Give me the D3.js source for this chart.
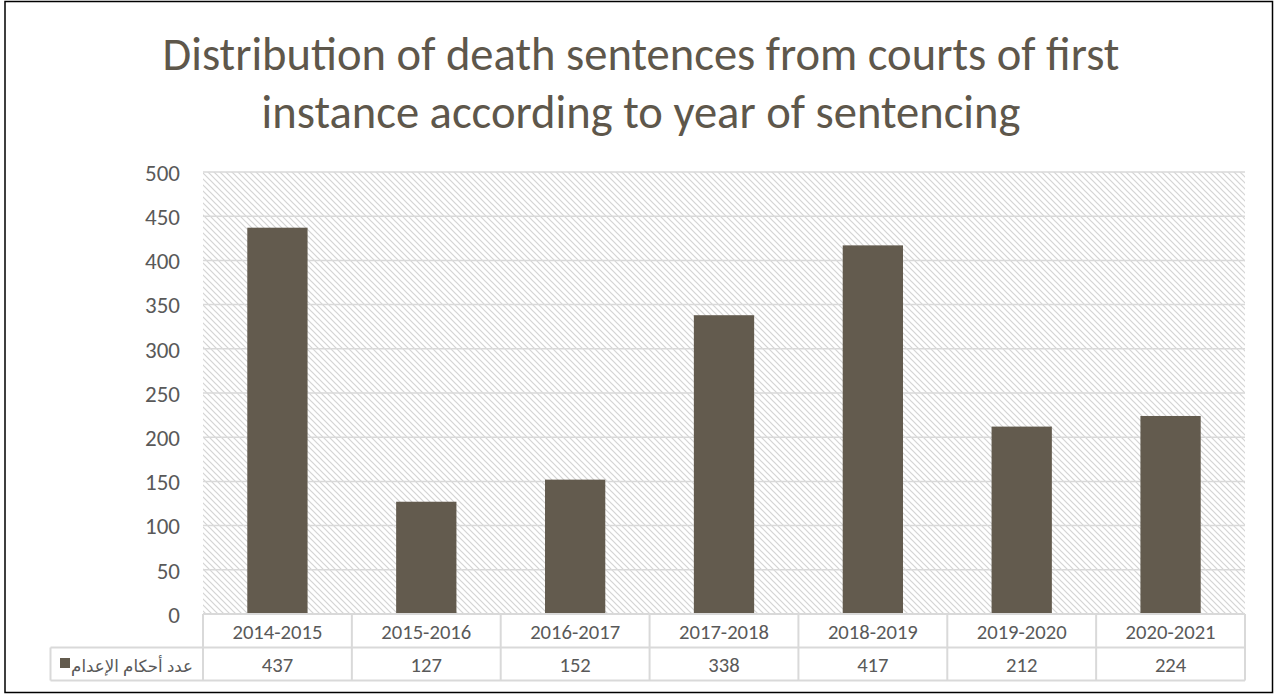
<!DOCTYPE html>
<html>
<head>
<meta charset="utf-8">
<script src="https://cdn.jsdelivr.net/npm/d3@7"></script>
<style>
  html, body { margin: 0; padding: 0; background: #fff; }
  svg { display: block; }
</style>
</head>
<body>
<svg id="chart" width="1275" height="698"></svg>
<script>
const categories = ["2014-2015", "2015-2016", "2016-2017", "2017-2018", "2018-2019", "2019-2020", "2020-2021"];
const values = [437, 127, 152, 338, 417, 212, 224];
const yTicks = [0, 50, 100, 150, 200, 250, 300, 350, 400, 450, 500];
const seriesName = "عدد أحكام الإعدام";
const titleLines = ["Distribution of death sentences from courts of first", "instance according to year of sentencing"];

const W = 1275, H = 698;
const margin = { left: 203, right: 1245, top: 172, bottom: 614 };
const barColor = "#635b4e";
const textColor = "#595959";
const gridColor = "#d9d9d9";
const font = "Calibri, Carlito, 'Open Sans', 'Liberation Sans', sans-serif";

const svg = d3.select("#chart");

// helper: scale font size of a selection so that a reference text reaches a target width
function fitFont(sel, refIndex, targetW, base) {
  sel.attr("font-size", base);
  const w = sel.nodes()[refIndex].getComputedTextLength();
  const fs = base * targetW / w;
  sel.attr("font-size", fs);
  return fs;
}

// pattern
const defs = svg.append("defs");
const pat = defs.append("pattern")
  .attr("id", "hatch").attr("patternUnits", "userSpaceOnUse")
  .attr("width", 6).attr("height", 6);
pat.append("rect").attr("width", 6).attr("height", 6).attr("fill", "#fff");
pat.append("path").attr("d", "M-1,-1 L7,7 M-7,-1 L1,7 M5,-1 L13,7")
  .attr("stroke", "#d4d4d4").attr("stroke-width", 1.2);

// outer border
svg.append("rect").attr("x", 5).attr("y", 1.5).attr("width", 1267.5).attr("height", 691)
  .attr("fill", "#fff").attr("stroke", "#000").attr("stroke-width", 1.5);

const x = d3.scaleBand().domain(categories).range([margin.left, margin.right]).paddingInner(0).paddingOuter(0);
const y = d3.scaleLinear().domain([0, 500]).range([margin.bottom, margin.top]);

// plot background
svg.append("rect").attr("x", margin.left).attr("y", margin.top)
  .attr("width", margin.right - margin.left).attr("height", margin.bottom - margin.top)
  .attr("fill", "url(#hatch)");

// gridlines
svg.append("g").selectAll("line").data(yTicks.filter(d => d > 0)).join("line")
  .attr("x1", margin.left).attr("x2", margin.right)
  .attr("y1", d => y(d)).attr("y2", d => y(d))
  .attr("stroke", gridColor).attr("stroke-width", 1.5);

// y axis labels
const yAxis = d3.axisLeft(y).tickValues(yTicks).tickSize(0).tickPadding(0);
const yg = svg.append("g").attr("transform", `translate(180,0)`).call(yAxis);
yg.select(".domain").remove();
const yTexts = yg.selectAll("text").attr("font-family", font)
  .attr("fill", textColor).attr("dy", "0.36em");
fitFont(yTexts, 6, 35, 20);

// bars
const barW = x.bandwidth() * 0.405;
svg.append("g").selectAll("rect").data(values).join("rect")
  .attr("x", (d, i) => x(categories[i]) + x.bandwidth() / 2 - barW / 2)
  .attr("width", barW)
  .attr("y", d => y(d)).attr("height", d => y(0) - y(d))
  .attr("fill", barColor);

// data table
const row1Top = margin.bottom, row1Bot = 647.5, row2Bot = 680.5, legendLeft = 50.5;
const tg = svg.append("g").attr("stroke", gridColor).attr("stroke-width", 2).attr("fill", "none");
tg.append("line").attr("x1", margin.left).attr("x2", margin.right).attr("y1", row1Top).attr("y2", row1Top);
tg.append("line").attr("x1", legendLeft).attr("x2", margin.right).attr("y1", row1Bot).attr("y2", row1Bot);
tg.append("line").attr("x1", legendLeft).attr("x2", margin.right).attr("y1", row2Bot).attr("y2", row2Bot);
tg.append("line").attr("x1", legendLeft).attr("x2", legendLeft).attr("y1", row1Bot).attr("y2", row2Bot);
const edges = categories.map(c => x(c)).concat([margin.right]);
tg.selectAll("line.v").data(edges).join("line").attr("class", "v")
  .attr("x1", d => d).attr("x2", d => d).attr("y1", row1Top).attr("y2", row2Bot);

const catTexts = svg.append("g").selectAll("text").data(categories).join("text")
  .attr("x", d => x(d) + x.bandwidth() / 2).attr("y", (row1Top + row1Bot) / 2 + 1)
  .attr("text-anchor", "middle").attr("dominant-baseline", "central")
  .attr("font-family", font).attr("fill", textColor)
  .text(d => d);
const tableFs = fitFont(catTexts, 0, 90, 18);

svg.append("g").selectAll("text").data(values).join("text")
  .attr("x", (d, i) => x(categories[i]) + x.bandwidth() / 2).attr("y", (row1Bot + row2Bot) / 2 + 1)
  .attr("text-anchor", "middle").attr("dominant-baseline", "central")
  .attr("font-family", font).attr("font-size", tableFs).attr("fill", textColor)
  .text(d => d);

// legend
svg.append("rect").attr("x", 60).attr("y", 658).attr("width", 10).attr("height", 10).attr("fill", barColor);
const legText = svg.append("text").attr("x", 193).attr("y", (row1Bot + row2Bot) / 2 + 1)
  .attr("text-anchor", "end").attr("dominant-baseline", "central")
  .attr("font-family", "'Noto Sans', 'DejaVu Sans', sans-serif").attr("fill", textColor)
  .text(seriesName);
fitFont(legText, 0, 122, 16);

// title
const titleTargets = [{ w: 957, cx: 641, yb: 70 }, { w: 758, cx: 641, yb: 128 }];
const tt = svg.append("g").selectAll("text").data(titleLines).join("text")
  .attr("x", (d, i) => titleTargets[i].cx).attr("y", (d, i) => titleTargets[i].yb)
  .attr("text-anchor", "middle").attr("font-family", font)
  .attr("fill", "#5e574b").text(d => d);
fitFont(tt, 0, titleTargets[0].w, 40);
</script>
</body>
</html>
